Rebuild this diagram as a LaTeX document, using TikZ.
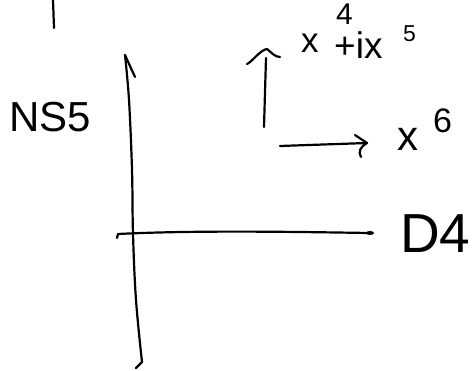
\documentclass[tikz,border=0pt]{standalone}
\usepackage{fontspec}
\setmainfont{Liberation Sans}
\begin{document}
\begin{tikzpicture}[x=1pt,y=-1pt,
  pen/.style={line width=2.2pt, line cap=round, line join=round},
  lbl/.style={inner sep=0pt, anchor=base west}]
\useasboundingbox (0,0) rectangle (475,371);
% short stroke at the top left
\coordinate (ta) at (53,0);
\coordinate (tb) at (54,28);
\draw[pen] (ta) -- (tb);
% vertical axis with its one-sided barb
\coordinate (vtop) at (125,55);
\coordinate (vbarb) at (135,77);
\coordinate (vbot) at (142,362);
\coordinate (vhook) at (136,368);
\draw[pen] (vbarb) -- (vtop);
\draw[pen] (vtop) plot[smooth, tension=0.6] coordinates {(125,55) (129,100) (132,170) (133,234) (136,300) (142,362)} -- (vhook);
% horizontal axis
\coordinate (hhook) at (117,238);
\coordinate (hleft) at (118,234);
\coordinate (hright) at (370,233);
\draw[pen] (hhook) -- (hleft) .. controls (200,230) and (300,232) .. (hright);
\fill (hright) ellipse (4pt and 2pt);
% labels
\node[lbl, font=\fontsize{42}{42}\selectfont] (ns5) at (9,132) {NS5};
\node[lbl, font=\fontsize{55}{55}\selectfont] (d4) at (400,253) {D4};
% small upward arrow
\coordinate (ubot) at (264,127);
\coordinate (utop) at (267,49);
\coordinate (uleft) at (247,64);
\coordinate (uright) at (280,57);
\draw[pen] (ubot) -- (266,58);
\draw[pen] (uleft) .. controls (252,62) and (260,50) .. (utop) .. controls (272,53) and (275,57) .. (uright);
% label x^4 + i x^5
\node[lbl, font=\fontsize{35}{35}\selectfont] (xa) at (301,53) {x};
\node[lbl, font=\fontsize{30}{30}\selectfont, text depth=0pt] (sa) at (336,25) {4};
\node[lbl, font=\fontsize{37}{37}\selectfont, text height=0.6em] (pi) at (334,59) {+ix};
\node[lbl, font=\fontsize{23}{23}\selectfont] (sb) at (403,42) {5};
% horizontal arrow
\coordinate (rleft) at (280,146);
\coordinate (rtip) at (367,143);
\draw[pen] (rleft) -- (rtip);
\draw[pen] (355,135) -- (rtip) .. controls (360,147) and (358,152) .. (361,157);
% label x^6
\node[lbl, font=\fontsize{42}{42}\selectfont] (xb) at (397,151) {x};
\node[lbl, font=\fontsize{34}{34}\selectfont] (sc) at (433,133) {6};
\end{tikzpicture}
\end{document}
